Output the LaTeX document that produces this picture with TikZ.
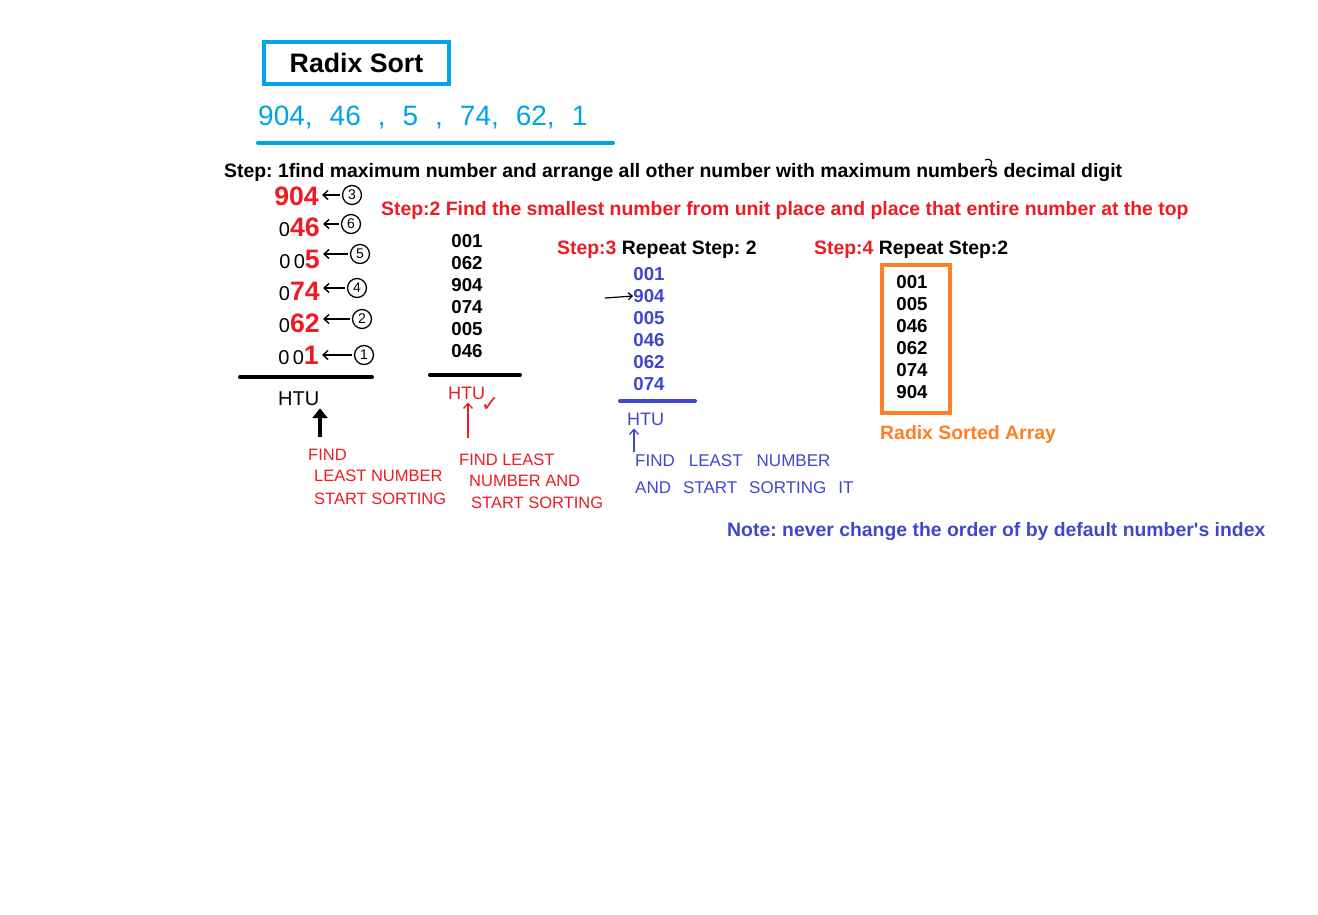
\documentclass[tikz,border=0pt]{standalone}
\usepackage{fontspec}
\setmainfont{Liberation Sans}[Ligatures=TeXOff]
\newfontfamily\symfont{DejaVu Sans}
\usepackage{tikz}
\usetikzlibrary{arrows.meta}
\definecolor{sky}{HTML}{00A2E8}
\definecolor{brick}{HTML}{ED1C24}
\definecolor{indigo}{HTML}{3F48CC}
\definecolor{tangerine}{HTML}{FF7F27}
\newcommand{\zpad}[1]{{\fontsize{20}{20}\selectfont\mdseries\color{black}#1}}
\newcommand{\wsp}[1]{\spaceskip=#1\relax}

\begin{document}
\frenchspacing
\begin{tikzpicture}[x=1pt, y=-1pt,
  txt/.style={font=\fontsize{19.4}{22}\selectfont\bfseries, inner sep=0pt, anchor=base west},
  num/.style={font=\fontsize{18.7}{22}\selectfont\bfseries, inner sep=0pt, align=center},
  hand/.style={font=\fontsize{16.5}{18}\selectfont, inner sep=0pt, anchor=west},
  big/.style={font=\fontsize{26.7}{28}\selectfont\bfseries, inner sep=0pt, anchor=east, text=brick},
  idx/.style={draw, circle, line width=1.3pt, minimum size=19pt, inner sep=0pt, font=\fontsize{14}{14}\selectfont},
  pt/.style={-{Straight Barb[length=5pt, width=9pt]}, line width=1.4pt, shorten <=2pt, shorten >=3pt},
  up/.style={-{Straight Barb[length=5pt, width=9pt]}, line width=1.3pt, shorten >=3pt}]
  \fill[white] (0,0) rectangle (1318,914);
  \useasboundingbox (0,0) rectangle (1318,914);

  \node[draw=sky, line width=4pt, minimum width=185pt, minimum height=42pt, inner sep=0pt,
        font=\fontsize{26.7}{28}\selectfont\bfseries] (title) at (356.5,63) {Radix Sort};
  \node[hand, text=sky, font=\fontsize{28}{28}\selectfont] (input) at (258,118) {\wsp{17pt}904, 46 , 5 , 74, 62, 1};
  \coordinate (u0) at (258,143);
  \coordinate (u1) at (613,143);
  \draw[sky, line width=4pt, line cap=round] (u0) -- (u1);

  \node[txt] (s1) at (224,177) {Step: 1find maximum number and arrange all other number with maximum numbers decimal digit};
  \draw[line width=1.2pt] (985,160) .. controls (992,157) and (994,164) .. (989,168);

  \node[big] (r1) at (319,196) {904};
  \node[big] (r2) at (320,227) {\zpad{0}46};
  \node[big] (r3) at (320,259) {\zpad{0\,0}5};
  \node[big] (r4) at (320,291) {\zpad{0}74};
  \node[big] (r5) at (320,323) {\zpad{0}62};
  \node[big] (r6) at (319,355) {\zpad{0\,0}1};
  \node[idx] (c1) at (352,195) {3};
  \node[idx] (c2) at (351,224) {6};
  \node[idx] (c3) at (360,254) {5};
  \node[idx] (c4) at (357,288) {4};
  \node[idx] (c5) at (362,319) {2};
  \node[idx] (c6) at (364,355) {1};
  \draw[pt] (c1.west) -- (c1.west -| r1.east);
  \draw[pt] (c2.west) -- (c2.west -| r2.east);
  \draw[pt] (c3.west) -- (c3.west -| r3.east);
  \draw[pt] (c4.west) -- (c4.west -| r4.east);
  \draw[pt] (c5.west) -- (c5.west -| r5.east);
  \draw[pt] (c6.west) -- (c6.west -| r6.east);
  \coordinate (b0) at (240,377);
  \coordinate (b1) at (372,377);
  \draw[line width=4pt, line cap=round] (b0) -- (b1);
  \node[hand, font=\fontsize{20}{20}\selectfont] (h1) at (278,399) {HTU};
  \coordinate (a1) at (320,437);
  \draw[-{Triangle[length=10pt, width=15pt]}, line width=4pt, shorten >=2pt] (a1) -- (a1 |- h1.south);
  \node[hand, text=brick] (n1) at (308,455) {FIND};
  \node[hand, text=brick] (n2) at (314,476) {LEAST NUMBER};
  \node[hand, text=brick] (n3) at (314,499) {START SORTING};

  \node[txt, text=brick] (s2) at (381,215) {Step:2 Find the smallest number from unit place and place that entire number at the top};
  \node[num] (k2) at (467,296) {001\\062\\904\\074\\005\\046};
  \coordinate (b2) at (430,375);
  \coordinate (b3) at (520,375);
  \draw[line width=4pt, line cap=round] (b2) -- (b3);
  \node[hand, text=brick, font=\fontsize{18}{18}\selectfont] (h2) at (448,393) {HTU};
  \node[inner sep=0pt, text=brick, font=\symfont\fontsize{22}{22}\selectfont] (ok) at (490,405) {✓};
  \coordinate (a2) at (468,438);
  \draw[brick, up] (a2) -- (a2 |- h2.south);
  \node[hand, text=brick] (n4) at (459,460) {FIND LEAST};
  \node[hand, text=brick] (n5) at (469,481) {NUMBER AND};
  \node[hand, text=brick] (n6) at (471,503) {START SORTING};

  \node[txt] (s3) at (557,254) {{\color{brick}Step:3} Repeat Step: 2};
  \node[num, text=indigo] (t1) at (649,274) {001};
  \node[num, text=indigo] (t2) at (649,296) {904};
  \node[num, text=indigo] (t3) at (649,318) {005};
  \node[num, text=indigo] (t4) at (649,340) {046};
  \node[num, text=indigo] (t5) at (649,362) {062};
  \node[num, text=indigo] (t6) at (649,384) {074};
  \coordinate (p0) at (605,298);
  \draw[-{Straight Barb[length=4pt, width=7pt]}, line width=1.2pt] (p0) -- (t2.west);
  \coordinate (b4) at (620,401);
  \coordinate (b5) at (695,401);
  \draw[indigo, line width=4pt, line cap=round] (b4) -- (b5);
  \node[hand, text=indigo, font=\fontsize{18}{18}\selectfont] (h3) at (627,419) {HTU};
  \coordinate (a3) at (634,452);
  \draw[indigo, up] (a3) -- (a3 |- h3.south);
  \node[hand, text=indigo, font=\fontsize{17}{18}\selectfont] (n7) at (635,461) {\wsp{14pt}FIND LEAST NUMBER};
  \node[hand, text=indigo, font=\fontsize{17}{18}\selectfont] (n8) at (635,488) {\wsp{12pt}AND START SORTING IT};

  \node[txt] (s4) at (814,254) {{\color{brick}Step:4} Repeat Step:2};
  \node[draw=tangerine, line width=4pt, minimum width=68pt, minimum height=148pt] (box) at (916,339) {};
  \node[num] (k4) at (912,337) {001\\005\\046\\062\\074\\904};
  \node[txt, text=tangerine] (done) at (880,439) {Radix Sorted Array};

  \node[txt, text=indigo] (note) at (727,536) {Note: never change the order of by default number's index};
\end{tikzpicture}
\end{document}
